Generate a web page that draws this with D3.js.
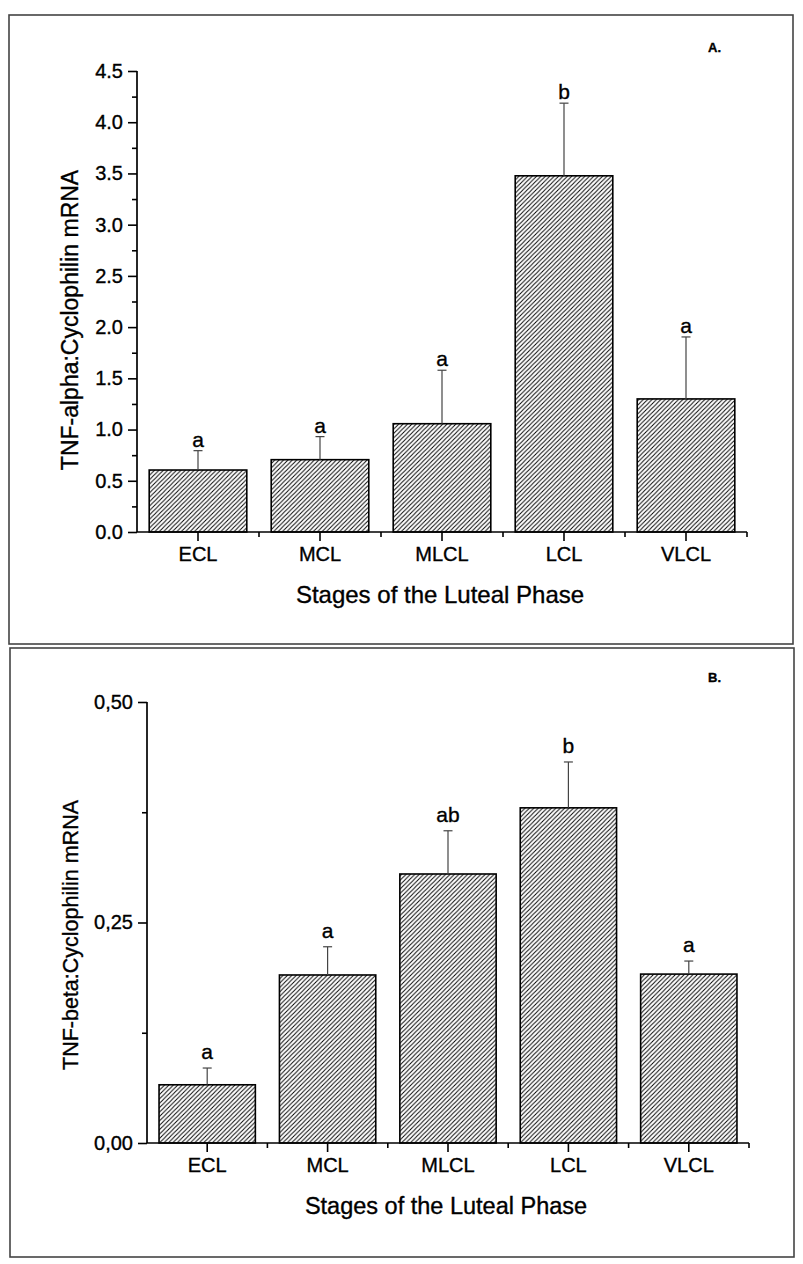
<!DOCTYPE html>
<html><head><meta charset="utf-8">
<script src="https://cdn.jsdelivr.net/npm/d3@7"></script>
<style>
html,body{margin:0;padding:0;background:#fff;}
svg{display:block;font-family:"Liberation Sans",Arial,sans-serif;}
svg text{stroke:#000;stroke-width:0.35px;}
</style></head>
<body>
<svg id="chart" width="803" height="1264"></svg>
<script>
// ---- data ----
const stages = ["ECL", "MCL", "MLCL", "LCL", "VLCL"];
const tnfAlpha = [0.605, 0.706, 1.057, 3.477, 1.299];
const tnfAlphaErr = [0.189, 0.225, 0.522, 0.709, 0.605];
const tnfAlphaLetters = ["a", "a", "a", "b", "a"];
const tnfBeta = [0.066, 0.1905, 0.305, 0.380, 0.1915];
const tnfBetaErr = [0.019, 0.032, 0.049, 0.052, 0.0148];
const tnfBetaLetters = ["a", "a", "ab", "b", "a"];
const alphaTicks = [0, 0.5, 1.0, 1.5, 2.0, 2.5, 3.0, 3.5, 4.0, 4.5];
const alphaMinor = [0.25, 0.75, 1.25, 1.75, 2.25, 2.75, 3.25, 3.75, 4.25];
const betaTicks = [0, 0.25, 0.5];
const betaMinor = [0.125, 0.375];

const svg = d3.select("#chart");
const defs = svg.append("defs");
const P = 4.4;
const pat = defs.append("pattern").attr("id","hatch")
  .attr("patternUnits","userSpaceOnUse").attr("width",P).attr("height",P);
pat.append("rect").attr("width",P).attr("height",P).attr("fill","#fff");
pat.append("path").attr("d",`M-1,${P+1} L${P+1},-1 M-1,1 L1,-1 M${P-1},${P+1} L${P+1},${P-1}`)
  .attr("stroke","#000").attr("stroke-width",0.95);

const commaLocale = d3.formatLocale({decimal:",", thousands:".", grouping:[3], currency:["",""]});

function panel(cfg){
  const g = svg.append("g");
  g.append("rect").attr("x",cfg.frame[0]).attr("y",cfg.frame[1])
    .attr("width",cfg.frame[2]-cfg.frame[0]).attr("height",cfg.frame[3]-cfg.frame[1])
    .attr("fill","none").attr("stroke","#444").attr("stroke-width",1.6);

  const x = d3.scaleBand().domain(stages).range([cfg.x0, cfg.x1])
    .paddingInner(0.2).paddingOuter(0.1);
  const y = d3.scaleLinear().domain(cfg.domain).range([cfg.y0, cfg.y1]);

  g.selectAll("rect.bar").data(cfg.values).join("rect").attr("class","bar")
    .attr("x",(d,i)=>x(stages[i])).attr("width",x.bandwidth())
    .attr("y",d=>y(d)).attr("height",d=>y(0)-y(d))
    .attr("fill","url(#hatch)").attr("stroke","#000").attr("stroke-width",1.6);

  const cx = i => x(stages[i]) + x.bandwidth()/2;
  const eg = g.append("g").attr("stroke","#444").attr("stroke-width",1.2);
  cfg.values.forEach((v,i)=>{
    const top = y(v + cfg.err[i]);
    eg.append("line").attr("x1",cx(i)).attr("x2",cx(i)).attr("y1",y(v)).attr("y2",top);
    eg.append("line").attr("x1",cx(i)-4.5).attr("x2",cx(i)+4.5).attr("y1",top).attr("y2",top);
    g.append("text").attr("x",cx(i)).attr("y",top-cfg.letterGap)
      .attr("text-anchor","middle").attr("font-size",21).attr("fill","#000")
      .text(cfg.letters[i]);
  });

  const ya = d3.axisLeft(y).tickValues(cfg.ticks).tickSize(9).tickPadding(5)
    .tickFormat(cfg.fmt);
  const yg = g.append("g").attr("transform",`translate(${cfg.x0},0)`).call(ya);
  yg.select(".domain").attr("d",`M0,${cfg.y0}V${cfg.y1}`).attr("stroke","#000").attr("stroke-width",1.7);
  yg.selectAll(".tick line").attr("stroke","#000").attr("stroke-width",1.6);
  yg.selectAll(".tick text").attr("font-size",20).attr("fill","#000")
    .attr("font-family","Liberation Sans, Arial, sans-serif");
  const ym = d3.axisLeft(y).tickValues(cfg.minor).tickSize(5).tickFormat("");
  const ymg = g.append("g").attr("transform",`translate(${cfg.x0},0)`).call(ym);
  ymg.select(".domain").remove();
  ymg.selectAll(".tick line").attr("stroke","#000").attr("stroke-width",1.6);

  const xa = d3.axisBottom(x).tickSize(9).tickPadding(6);
  const xg = g.append("g").attr("transform",`translate(0,${cfg.y0})`).call(xa);
  xg.select(".domain").attr("d",`M${cfg.x0},0H${cfg.x1}`).attr("stroke","#000").attr("stroke-width",1.7);
  xg.selectAll(".tick line").attr("stroke","#000").attr("stroke-width",1.6);
  xg.selectAll(".tick text").attr("font-size",20).attr("fill","#000")
    .attr("font-family","Liberation Sans, Arial, sans-serif");
  const bounds = stages.map(s => x(s) + x.bandwidth()/2 + x.step()/2);
  g.selectAll("line.xminor").data(bounds).join("line").attr("class","xminor")
    .attr("x1",d=>d).attr("x2",d=>d).attr("y1",cfg.y0).attr("y2",cfg.y0+5)
    .attr("stroke","#000").attr("stroke-width",1.6);

  g.append("text").attr("x",(cfg.x0+cfg.x1)/2 - 2).attr("y",cfg.y0+71)
    .attr("text-anchor","middle").attr("font-size",cfg.xTitleSize).attr("fill","#000")
    .text("Stages of the Luteal Phase");
  g.append("text").attr("transform",`translate(${cfg.yTitleX},${cfg.yTitleY}) rotate(-90)`)
    .attr("text-anchor","middle").attr("font-size",cfg.yTitleSize).attr("fill","#000")
    .text(cfg.yTitle);
  g.append("text").attr("x",708).attr("y",cfg.tagY).attr("font-size",13)
    .attr("font-weight","bold").attr("fill","#000").text(cfg.tag);
}

panel({
  frame:[9,15,793,644], x0:137, x1:747, y0:532, y1:71, domain:[0,4.5],
  values:tnfAlpha, err:tnfAlphaErr, letters:tnfAlphaLetters, letterGap:4,
  ticks:alphaTicks, minor:alphaMinor, fmt:d3.format(".1f"),
  yTitle:"TNF-alpha:Cyclophilin mRNA", yTitleX:78, yTitleY:320, yTitleSize:23,
  xTitleSize:24, tag:"A.", tagY:52
});
panel({
  frame:[10,648,794,1257], x0:147, x1:749, y0:1143, y1:702, domain:[0,0.5],
  values:tnfBeta, err:tnfBetaErr, letters:tnfBetaLetters, letterGap:9,
  ticks:betaTicks, minor:betaMinor, fmt:commaLocale.format(".2f"),
  yTitle:"TNF-beta:Cyclophilin mRNA", yTitleX:78, yTitleY:935, yTitleSize:21.5,
  xTitleSize:23.5, tag:"B.", tagY:682
});
</script>
</body></html>
